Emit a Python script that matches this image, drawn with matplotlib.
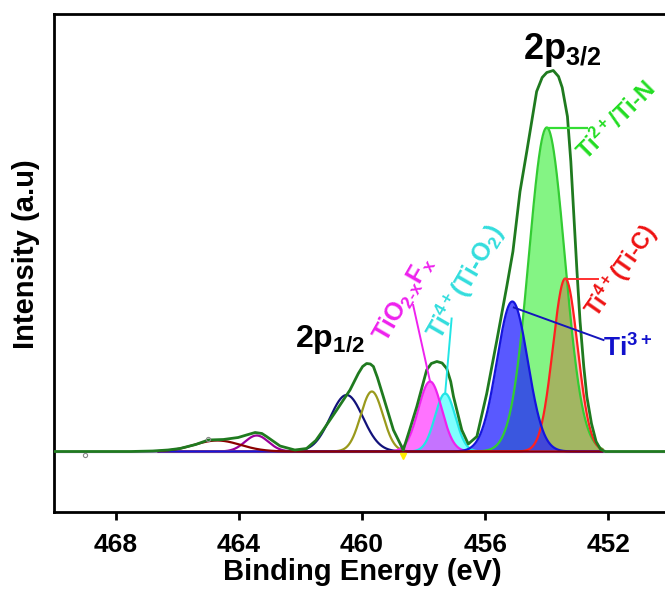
import numpy as np
import matplotlib
matplotlib.use("Agg")
import matplotlib.pyplot as plt

plt.rcParams['font.family'] = ['Liberation Sans', 'DejaVu Sans']
plt.rcParams['font.weight'] = 'bold'
plt.rcParams['mathtext.fontset'] = 'custom'
plt.rcParams['mathtext.rm'] = 'Liberation Sans:bold'
plt.rcParams['mathtext.it'] = 'Liberation Sans:bold'
plt.rcParams['mathtext.bf'] = 'Liberation Sans:bold'

# ---- envelope ----
env_be = [470.0, 467.5, 466.8, 466.3, 465.91, 465.4, 464.99, 464.5, 464.02, 463.75, 463.47,
          463.25, 463.1, 462.66, 462.18, 461.8, 461.5, 461.26, 460.82, 460.39, 460.12,
          459.98, 459.85, 459.73, 459.63, 459.5, 459.31, 458.98, 458.66, 458.45, 458.22,
          457.9, 457.75, 457.57, 457.4, 457.25, 457.12, 457.03, 456.76, 456.55, 456.27,
          455.95, 455.62, 455.3, 455.1, 454.87, 454.65, 454.49, 454.33, 454.15, 454.0,
          453.79, 453.62, 453.5, 453.33, 453.22, 453.12, 453.02, 452.92, 452.8, 452.7,
          452.55, 452.4, 452.25, 452.1, 450.0]
env_int = [0.0, 0.0, 0.005, 0.015, 0.03, 0.07, 0.115, 0.12, 0.14, 0.165, 0.19,
           0.18, 0.15, 0.055, 0.015, 0.03, 0.11, 0.215, 0.415, 0.615, 0.78,
           0.85, 0.88, 0.875, 0.85, 0.74, 0.55, 0.215, 0.015, 0.22, 0.45,
           0.815, 0.88, 0.90, 0.885, 0.83, 0.70, 0.55, 0.215, 0.075, 0.15,
           0.58, 1.115, 1.65, 2.0, 2.6, 3.0, 3.3, 3.6, 3.74, 3.79,
           3.81, 3.75, 3.64, 3.35, 2.9, 2.35, 1.8, 1.3, 0.85, 0.55,
           0.28, 0.1, 0.02, 0.0, 0.0]

# ---- fitted components: center (eV), height, width (sigma, eV) ----
comp_names   = ['Ti2+', 'Ti4+C', 'Ti3+', 'TiO2F', 'Ti4+O', 'p12a', 'p12b', 'sat1', 'sat2']
comp_centers = [454.0, 453.4, 455.12, 457.79, 457.30, 460.50, 459.68, 463.42, 464.70]
comp_heights = [3.24, 1.73, 1.50, 0.70, 0.58, 0.565, 0.60, 0.16, 0.11]
comp_sigmas  = [0.58, 0.40, 0.50, 0.38, 0.33, 0.53, 0.36, 0.38, 0.75]

line_colors = ['#33cc33', '#ff2020', '#1515dd', '#ee22ee', '#22e5e5',
               '#12127a', '#9a9a1c', '#990099', '#8b0000']
fill_colors = ['#33ee33', '#ff0000', '#2222ff', '#ff00ff', '#00ffff',
               None, None, None, None]
fill_alphas = [0.6, 0.25, 0.75, 0.55, 0.5, 0, 0, 0, 0]

x_ticks = [468, 464, 460, 456, 452]

fig = plt.figure(figsize=(6.65, 5.9), dpi=100)
ax = fig.add_axes([54/665, 78/590, (670-54)/665, (512-14)/590])

be = np.linspace(466.6, 452.2, 1200)

def comp(i):
    return comp_heights[i] * np.exp(-0.5 * ((be - comp_centers[i]) / comp_sigmas[i]) ** 2)

# background line
ax.plot([470, 450], [0, 0], color='#9988bb', lw=1.6, zorder=1)

# fills (order: green, red, cyan, magenta, blue)
for i in [0, 1, 4, 3, 2]:
    ax.fill_between(be, 0, comp(i), color=fill_colors[i], alpha=fill_alphas[i],
                    lw=0, zorder=2)
# lines
for i in [7, 5, 6, 4, 3, 0, 1, 2, 8]:
    ax.plot(be, comp(i), color=line_colors[i], lw=1.6, zorder=3)

# envelope
ax.plot(env_be, env_int, color='#1f7a1f', lw=2.0, zorder=4)

# a few raw markers
raw_be = [469.0, 465.0]
raw_int = [-0.03, 0.13]
ax.plot(raw_be, raw_int, ls='none', marker='o', ms=3, mfc='none', mec='#888888', mew=0.8, zorder=5)
ax.plot([458.66], [-0.04], ls='none', marker='v', ms=4, color='#ffee00', zorder=5)

# leader lines
ax.plot([454.0, 452.70], [3.24, 3.24], color='#33dd33', lw=1.6, zorder=5)
ax.plot([453.4, 452.33], [1.73, 1.73], color='#ff3030', lw=1.4, zorder=5)
ax.plot([455.07, 452.16], [1.44, 1.115], color='#1515bb', lw=1.4, zorder=5)
ax.plot([457.79, 458.34], [0.70, 1.465], color='#ee22ee', lw=1.4, zorder=5)
ax.plot([457.30, 457.09], [0.58, 1.33], color='#22e5e5', lw=1.4, zorder=5)

tkw = dict(ha='left', va='baseline', rotation_mode='anchor', fontweight='bold')
ax.text(452.72, 2.90, r'Ti$^{2+}$/Ti-N', color='#22dd22', fontsize=17, rotation=45, **tkw)
ax.text(452.36, 1.325, r'Ti$^{4+}$(Ti-C)', color='#ee1111', fontsize=16.5, rotation=55, **tkw)
ax.text(459.20, 1.08, r'TiO$_{2\text{-}x}$F$_x$', color='#ee22ee', fontsize=18, rotation=60, **tkw)
ax.text(457.45, 1.10, r'Ti$^{4+}$(Ti-O$_2$)', color='#33dddd', fontsize=18, rotation=60, **tkw)
ax.text(452.17, 0.948, r'Ti$^{3+}$', color='#1111cc', fontsize=19, **tkw)
ax.text(462.18, 1.048, r'2p$_{1/2}$', color='black', fontsize=23, **tkw)
ax.text(454.77, 3.922, r'2p$_{3/2}$', color='black', fontsize=26, **tkw)

ax.set_xlim(470, 450)
ax.set_ylim(-0.605, 4.375)
ax.set_xticks(x_ticks)
ax.set_xticklabels([str(t) for t in x_ticks], fontsize=19, fontweight='bold')
ax.set_yticks([])
ax.tick_params(axis='x', direction='out', length=6, width=2, pad=9)
for s in ax.spines.values():
    s.set_linewidth(2.0)
ax.set_xlabel('Binding Energy (eV)', fontsize=21, fontweight='bold', labelpad=1)
ax.set_ylabel('Intensity (a.u)', fontsize=21, fontweight='bold')
ax.yaxis.set_label_coords(-0.022, 0.518)

fig.savefig('out.png', dpi=100)
